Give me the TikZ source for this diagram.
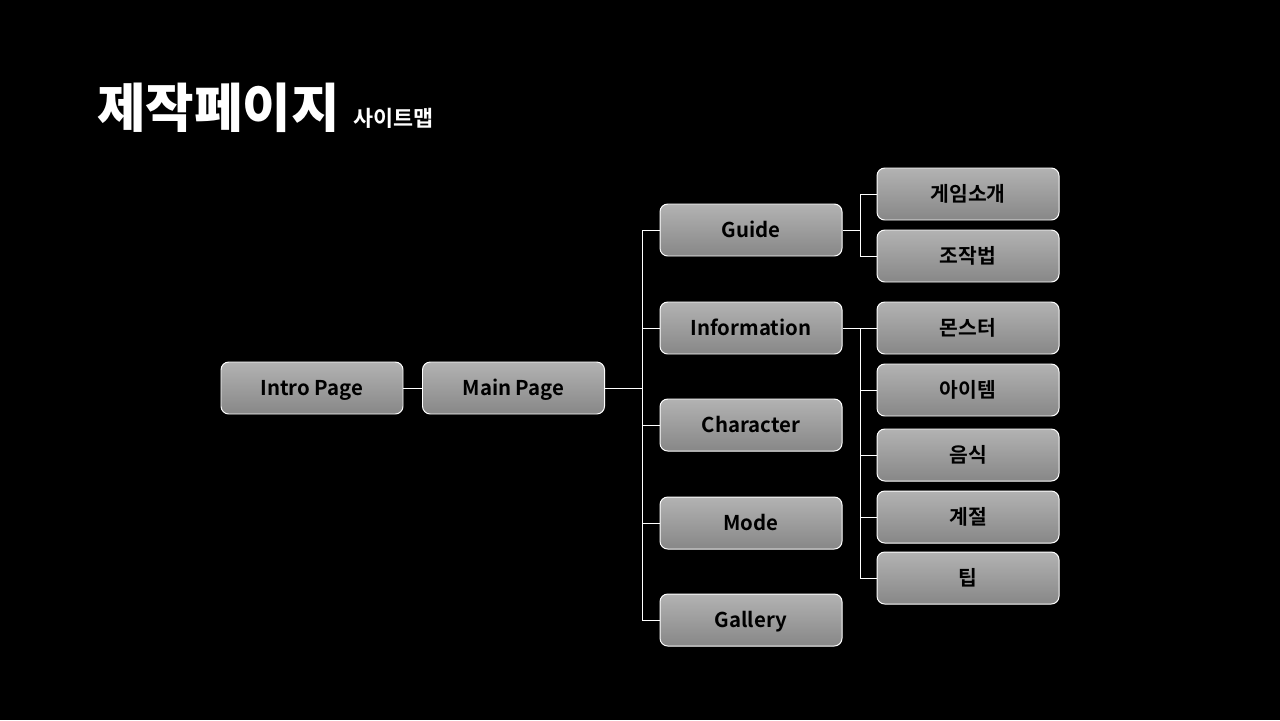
\documentclass[tikz,border=0pt]{standalone}
\usepackage{fontspec}
\setmainfont{Noto Sans CJK KR}[BoldFont={* Bold}]
\newfontfamily\titlefont{Noto Sans CJK KR Black}
\begin{document}
\begin{tikzpicture}[x=0.05cm,y=-0.05cm,
  box/.style={draw=white,line width=1.4pt,rounded corners=11pt,
    top color=black!30,bottom color=black!47,
    minimum width=182*0.05cm,minimum height=52*0.05cm,inner sep=0pt,
    text height=21.5pt,text depth=0pt,
    font=\bfseries\fontsize{29}{32}\selectfont,text=black},
  link/.style={draw=white,line width=1.4pt}]
\fill[black] (0,0) rectangle (1280,720);
\useasboundingbox (0,0) rectangle (1280,720);
% title
\node[anchor=base west,text=white,inner sep=0pt,font=\titlefont\fontsize{75}{78}\selectfont] (title) at (97,127) {제작페이지};
\node[anchor=base west,text=white,inner sep=0pt,font=\bfseries\fontsize{31}{33}\selectfont] (subtitle) at (353,126) {사이트맵};
% nodes
\node[box] (intro) at (312,388) {Intro Page};
\node[box] (main) at (513.5,388) {Main Page};
\node[box] (guide) at (751,230) {Guide};
\node[box] (info) at (751,328) {Information};
\node[box] (char) at (751,425) {Character};
\node[box] (mode) at (751,523) {Mode};
\node[box] (gallery) at (751,620) {Gallery};
\node[box] (g1) at (968,194) {게임소개};
\node[box] (g2) at (968,256) {조작법};
\node[box] (i1) at (968,328) {몬스터};
\node[box] (i2) at (968,390) {아이템};
\node[box] (i3) at (968,455) {음식};
\node[box] (i4) at (968,517) {계절};
\node[box] (i5) at (968,578) {팁};
% connectors
\draw[link] (intro.east) -- (main.east -| main.west);
\coordinate (mj) at (642,388);
\draw[link] (main.east) -- (mj);
\draw[link] (guide.west) -| (mj);
\draw[link] (gallery.west) -| (mj);
\draw[link] (info.west) -- (info.west -| mj);
\draw[link] (char.west) -- (char.west -| mj);
\draw[link] (mode.west) -- (mode.west -| mj);
\coordinate (gj) at (860,230);
\draw[link] (guide.east) -- (gj);
\draw[link] (g1.west) -| (gj);
\draw[link] (g2.west) -| (gj);
\coordinate (ij) at (860,328);
\draw[link] (info.east) -- (i1.west);
\draw[link] (i5.west) -| (ij);
\draw[link] (i2.west) -- (i2.west -| ij);
\draw[link] (i3.west) -- (i3.west -| ij);
\draw[link] (i4.west) -- (i4.west -| ij);
\end{tikzpicture}
\end{document}
